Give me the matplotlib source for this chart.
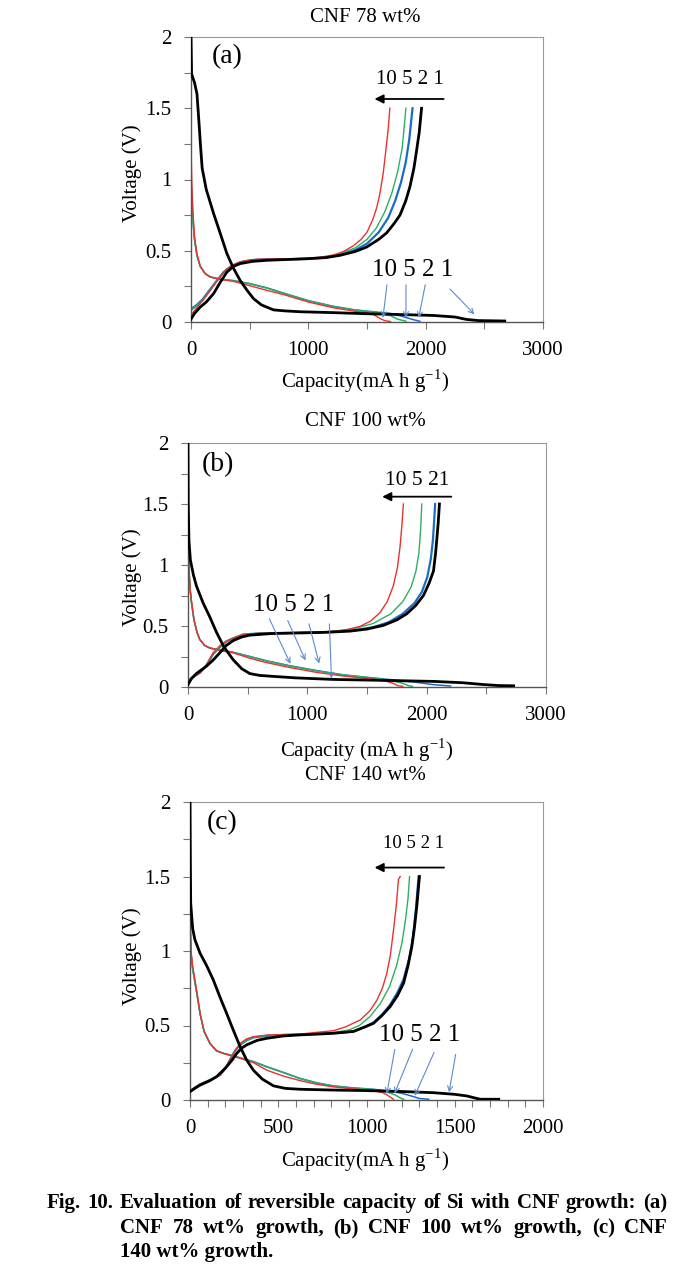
import matplotlib
matplotlib.use("Agg")
import matplotlib.pyplot as plt
from matplotlib.ticker import MultipleLocator

plt.rcParams['font.family'] = 'Liberation Serif'
plt.rcParams['mathtext.fontset'] = 'custom'
plt.rcParams['mathtext.rm'] = 'Liberation Serif'

W, H = 694, 1278

# ---------------- panel (a): CNF 78 wt% ----------------
a_dis_black = [(0, 2.0), (5, 1.74), (30, 1.68), (51, 1.6), (68, 1.4), (80, 1.25), (95, 1.08), (130, 0.93),
               (193, 0.76), (250, 0.62), (306, 0.48), (360, 0.38), (420, 0.29), (480, 0.22), (533, 0.164),
               (600, 0.12), (703, 0.085), (800, 0.078), (930, 0.072), (1200, 0.066), (1497, 0.058),
               (1800, 0.052), (2064, 0.046), (2250, 0.035), (2348, 0.018), (2450, 0.01), (2674, 0.007)]
a_dis_blue = [(0, 1.0), (8, 0.85), (18, 0.7), (30, 0.58), (50, 0.47), (79, 0.39), (120, 0.34), (164, 0.316),
              (250, 0.3), (363, 0.29), (500, 0.27), (646, 0.24), (800, 0.2), (1000, 0.15), (1213, 0.11),
              (1400, 0.085), (1600, 0.068), (1700, 0.06), (1800, 0.04), (1880, 0.02), (1950, 0.005)]
a_dis_green = [(0, 1.0), (8, 0.85), (18, 0.7), (30, 0.58), (50, 0.47), (79, 0.39), (120, 0.34), (164, 0.316),
               (250, 0.3), (363, 0.29), (500, 0.268), (646, 0.238), (800, 0.198), (1000, 0.148), (1213, 0.108),
               (1400, 0.083), (1600, 0.065), (1700, 0.045), (1760, 0.02), (1832, 0.005)]
a_dis_red = [(0, 1.22), (8, 0.95), (18, 0.75), (30, 0.6), (50, 0.48), (79, 0.39), (120, 0.34), (164, 0.316),
             (250, 0.3), (363, 0.285), (500, 0.255), (646, 0.222), (800, 0.19), (1000, 0.14), (1213, 0.1),
             (1400, 0.075), (1497, 0.066), (1560, 0.05), (1610, 0.025), (1650, 0.01), (1700, 0.003)]
a_chg_black = [(0, 0.02), (30, 0.06), (79, 0.105), (130, 0.14), (193, 0.2), (250, 0.28), (306, 0.35),
               (360, 0.39), (420, 0.41), (520, 0.425), (646, 0.433), (800, 0.438), (987, 0.444), (1150, 0.452),
               (1270, 0.468), (1400, 0.495), (1497, 0.526), (1600, 0.58), (1667, 0.625), (1730, 0.69),
               (1781, 0.75), (1830, 0.85), (1866, 0.95), (1900, 1.08), (1922, 1.2), (1945, 1.33), (1965, 1.5)]
a_chg_blue = [(0, 0.09), (50, 0.12), (100, 0.16), (164, 0.23), (230, 0.3), (278, 0.35), (340, 0.39),
              (420, 0.42), (520, 0.435), (646, 0.44), (800, 0.44), (987, 0.443), (1150, 0.452), (1270, 0.47),
              (1400, 0.505), (1500, 0.55), (1600, 0.63), (1680, 0.73), (1740, 0.85), (1790, 0.98),
              (1830, 1.12), (1860, 1.28), (1888, 1.5)]
a_chg_green = [(0, 0.08), (50, 0.115), (100, 0.155), (164, 0.225), (230, 0.3), (278, 0.35), (340, 0.39),
               (420, 0.42), (520, 0.435), (646, 0.44), (800, 0.44), (987, 0.444), (1150, 0.455), (1270, 0.48),
               (1400, 0.52), (1500, 0.58), (1580, 0.66), (1650, 0.77), (1710, 0.9), (1760, 1.05),
               (1800, 1.22), (1832, 1.5)]
a_chg_red = [(0, 0.05), (50, 0.1), (100, 0.15), (164, 0.22), (230, 0.3), (300, 0.37), (380, 0.41),
             (460, 0.43), (560, 0.44), (700, 0.442), (850, 0.444), (1000, 0.447), (1100, 0.455), (1213, 0.47),
             (1300, 0.495), (1384, 0.535), (1450, 0.58), (1500, 0.63), (1550, 0.72), (1582, 0.8), (1610, 0.9),
             (1639, 1.05), (1660, 1.2), (1680, 1.35), (1695, 1.5)]

# ---------------- panel (b): CNF 100 wt% ----------------
b_dis_black = [(0, 2.0), (2, 1.5), (8, 1.2), (20, 1.04), (45, 0.92), (70, 0.83), (126, 0.69), (180, 0.58),
               (238, 0.45), (300, 0.33), (378, 0.224), (450, 0.15), (518, 0.11), (600, 0.095), (714, 0.087),
               (900, 0.075), (1217, 0.062), (1600, 0.055), (2057, 0.046), (2300, 0.035), (2477, 0.02),
               (2600, 0.012), (2729, 0.01)]
b_dis_blue = [(0, 1.1), (8, 0.95), (18, 0.8), (28, 0.7), (50, 0.55), (75, 0.45), (98, 0.39), (140, 0.34),
              (182, 0.32), (260, 0.305), (378, 0.285), (520, 0.25), (658, 0.215), (850, 0.175), (1077, 0.135),
              (1300, 0.1), (1497, 0.08), (1700, 0.06), (1900, 0.04), (2050, 0.02), (2200, 0.008)]
b_dis_green = [(0, 1.1), (8, 0.95), (18, 0.8), (28, 0.7), (50, 0.55), (75, 0.45), (98, 0.39), (140, 0.34),
               (182, 0.32), (260, 0.303), (378, 0.283), (520, 0.248), (658, 0.213), (850, 0.172), (1077, 0.132),
               (1300, 0.098), (1497, 0.078), (1693, 0.055), (1800, 0.03), (1850, 0.01), (1880, 0.005)]
b_dis_red = [(0, 1.26), (8, 1.0), (18, 0.8), (28, 0.716), (50, 0.55), (75, 0.45), (98, 0.39), (140, 0.34),
             (182, 0.32), (260, 0.3), (378, 0.28), (520, 0.235), (658, 0.2), (850, 0.16), (1077, 0.12),
             (1300, 0.09), (1497, 0.07), (1650, 0.05), (1720, 0.03), (1760, 0.01), (1800, 0.005)]
b_chg_black = [(0, 0.02), (30, 0.07), (70, 0.11), (154, 0.17), (210, 0.22), (266, 0.28), (320, 0.34),
               (378, 0.38), (450, 0.41), (518, 0.425), (700, 0.438), (938, 0.443), (1150, 0.448), (1357, 0.458),
               (1500, 0.475), (1637, 0.505), (1750, 0.55), (1833, 0.6), (1910, 0.67), (1973, 0.75),
               (2020, 0.85), (2057, 0.95), (2075, 1.1), (2085, 1.21), (2097, 1.35), (2107, 1.5)]
b_chg_blue = [(0, 0.05), (40, 0.08), (98, 0.115), (150, 0.17), (210, 0.27), (270, 0.33), (322, 0.374),
              (380, 0.4), (462, 0.43), (600, 0.44), (800, 0.443), (1000, 0.446), (1217, 0.452), (1400, 0.465),
              (1550, 0.49), (1680, 0.53), (1800, 0.6), (1900, 0.69), (1960, 0.78), (2005, 0.9), (2035, 1.05),
              (2052, 1.2), (2062, 1.35), (2071, 1.5)]
b_chg_green = [(0, 0.05), (40, 0.08), (98, 0.115), (150, 0.17), (210, 0.27), (270, 0.33), (322, 0.374),
               (380, 0.4), (462, 0.43), (600, 0.44), (800, 0.443), (1000, 0.447), (1217, 0.455), (1400, 0.48),
               (1550, 0.52), (1700, 0.6), (1800, 0.7), (1870, 0.82), (1910, 0.95), (1935, 1.1), (1950, 1.3),
               (1959, 1.5)]
b_chg_red = [(0, 0.05), (40, 0.08), (98, 0.115), (150, 0.17), (210, 0.28), (270, 0.34), (322, 0.374),
             (380, 0.4), (462, 0.43), (600, 0.44), (800, 0.443), (1000, 0.447), (1217, 0.456), (1330, 0.47),
             (1441, 0.497), (1530, 0.54), (1609, 0.61), (1670, 0.7), (1721, 0.83), (1755, 0.98),
             (1777, 1.15), (1792, 1.32), (1805, 1.5)]

# ---------------- panel (c): CNF 140 wt% ----------------
c_dis_black = [(0, 2.0), (2, 1.6), (4, 1.32), (15, 1.15), (28, 1.075), (57, 0.985), (95, 0.9), (132, 0.806),
               (170, 0.69), (208, 0.58), (245, 0.47), (284, 0.358), (320, 0.27), (359, 0.2), (410, 0.14),
               (473, 0.095), (540, 0.078), (624, 0.072), (800, 0.067), (1002, 0.063), (1200, 0.057),
               (1380, 0.049), (1500, 0.038), (1569, 0.027), (1620, 0.012), (1645, 0.005), (1749, 0.005)]
c_dis_blue = [(0, 1.2), (6, 0.98), (15, 0.88), (28, 0.79), (45, 0.67), (57, 0.58), (80, 0.46), (113, 0.38),
              (150, 0.33), (189, 0.313), (240, 0.298), (284, 0.283), (360, 0.258), (435, 0.224), (530, 0.185),
              (624, 0.145), (720, 0.115), (813, 0.095), (920, 0.082), (1040, 0.072), (1115, 0.062),
              (1200, 0.045), (1260, 0.025), (1300, 0.01), (1352, 0.005)]
c_dis_green = [(0, 1.2), (6, 0.98), (15, 0.88), (28, 0.79), (45, 0.67), (57, 0.58), (80, 0.46), (113, 0.38),
               (150, 0.33), (189, 0.313), (240, 0.297), (284, 0.282), (360, 0.256), (435, 0.222), (530, 0.183),
               (624, 0.143), (720, 0.113), (813, 0.093), (920, 0.08), (1040, 0.07), (1115, 0.055),
               (1160, 0.035), (1190, 0.015), (1210, 0.005)]
c_dis_red = [(0, 1.265), (6, 1.0), (15, 0.9), (28, 0.806), (45, 0.68), (57, 0.58), (80, 0.46), (113, 0.38),
             (150, 0.33), (189, 0.313), (240, 0.295), (284, 0.28), (360, 0.25), (435, 0.2), (530, 0.16),
             (624, 0.13), (720, 0.105), (813, 0.088), (920, 0.075), (1040, 0.062), (1090, 0.05),
             (1115, 0.035), (1140, 0.015), (1153, 0.005)]
c_chg_black = [(0, 0.056), (30, 0.08), (57, 0.1), (113, 0.13), (151, 0.157), (180, 0.19), (208, 0.224),
               (240, 0.27), (265, 0.313), (295, 0.35), (321, 0.37), (380, 0.4), (435, 0.414), (530, 0.43),
               (624, 0.437), (720, 0.442), (813, 0.448), (926, 0.46), (990, 0.49), (1040, 0.515),
               (1090, 0.57), (1134, 0.627), (1175, 0.7), (1210, 0.784), (1235, 0.9), (1257, 1.03),
               (1272, 1.16), (1285, 1.3), (1300, 1.5)]
c_chg_blue = [(0, 0.06), (30, 0.085), (57, 0.105), (113, 0.134), (170, 0.168), (200, 0.21), (227, 0.27),
              (255, 0.33), (284, 0.37), (320, 0.4), (359, 0.42), (450, 0.433), (624, 0.44), (813, 0.448),
              (926, 0.46), (990, 0.49), (1040, 0.52), (1090, 0.575), (1134, 0.64), (1175, 0.72),
              (1210, 0.81), (1240, 0.94), (1262, 1.08), (1280, 1.28), (1295, 1.5)]
c_chg_green = [(0, 0.06), (30, 0.085), (57, 0.105), (113, 0.134), (170, 0.168), (200, 0.21), (227, 0.27),
               (255, 0.33), (284, 0.37), (320, 0.4), (359, 0.42), (450, 0.433), (624, 0.44), (813, 0.452),
               (900, 0.47), (960, 0.5), (1020, 0.56), (1080, 0.65), (1130, 0.76), (1170, 0.9), (1200, 1.05),
               (1220, 1.2), (1235, 1.35), (1244, 1.5)]
c_chg_red = [(0, 0.06), (30, 0.085), (57, 0.105), (113, 0.134), (170, 0.168), (200, 0.21), (227, 0.27),
             (255, 0.33), (284, 0.38), (320, 0.41), (359, 0.425), (450, 0.437), (624, 0.442), (700, 0.452),
             (813, 0.465), (880, 0.49), (964, 0.537), (1020, 0.6), (1059, 0.67), (1090, 0.75), (1115, 0.85),
             (1135, 0.97), (1153, 1.14), (1170, 1.32), (1181, 1.48), (1191, 1.5)]

rate_text = "10 5 2 1"

BLACK, BLUE, GREEN, RED = "black", "#1a6cc4", "#2bb060", "#e8332e"
ARROW_BLUE = "#5b8ad0"


def fig_box(left, top, right, bottom):
    return [left / W, 1 - bottom / H, (right - left) / W, (bottom - top) / H]


def draw_curves(ax, dis, chg):
    for pts, c, lw in zip(dis, [BLACK, BLUE, GREEN, RED], [2.0, 1.1, 1.1, 1.0]):
        xs, ys = zip(*pts)
        ax.plot(xs, ys, color=c, lw=lw, solid_joinstyle='round', zorder=3 if c == BLACK else 2)
    for pts, c, lw in zip(chg, [BLACK, BLUE, GREEN, RED], [2.0, 1.6, 1.0, 1.0]):
        xs, ys = zip(*pts)
        ax.plot(xs, ys, color=c, lw=lw, solid_joinstyle='round', zorder=3 if c == BLACK else 2)


def style_axes(ax, xmax, xmajor, xminor):
    ax.set_xlim(0, xmax)
    ax.set_ylim(0, 2)
    ax.xaxis.set_major_locator(MultipleLocator(xmajor))
    ax.xaxis.set_minor_locator(MultipleLocator(xminor))
    ax.yaxis.set_major_locator(MultipleLocator(0.5))
    ax.yaxis.set_minor_locator(MultipleLocator(0.25))
    ax.yaxis.set_major_formatter(plt.FuncFormatter(lambda v, p: f"{v:g}"))
    ax.tick_params(which='both', direction='out', length=5, width=0.8, color='#777777',
                   labelsize=15, pad=9)
    for s in ['top', 'right']:
        ax.spines[s].set_color('#999999')
        ax.spines[s].set_linewidth(0.8)
    for s in ['left', 'bottom']:
        ax.spines[s].set_color('#555555')
        ax.spines[s].set_linewidth(1.0)


def label_arrows(ax, text, x, y, size, tails, heads):
    ax.text(x, y, text, ha='center', va='center', fontsize=size)
    for (x0, y0), (x1, y1) in zip(tails, heads):
        ax.annotate('', xy=(x1, y1), xytext=(x0, y0),
                    arrowprops=dict(arrowstyle='->', color=ARROW_BLUE, lw=0.8, mutation_scale=9))


def top_arrow(ax, text, x, y, size, x_from, x_to, y_arrow):
    ax.text(x, y, text, ha='center', va='center', fontsize=size)
    ax.annotate('', xy=(x_to, y_arrow), xytext=(x_from, y_arrow),
                arrowprops=dict(arrowstyle='-|>', color='black', lw=1.3, mutation_scale=13))


fig = plt.figure(figsize=(W / 100, H / 100), dpi=100)

# panel (a)
ax = fig.add_axes(fig_box(191, 37, 543, 322))
draw_curves(ax, [a_dis_black, a_dis_blue, a_dis_green, a_dis_red],
            [a_chg_black, a_chg_blue, a_chg_green, a_chg_red])
style_axes(ax, 3000, 1000, 500)
ax.text(306, 1.86, "(a)", ha='center', va='center', fontsize=20)
top_arrow(ax, rate_text, 1866, 1.70, 15, 2177, 1540, 1.565)
label_arrows(ax, rate_text, 1887, 0.363, 18,
             [(1673, 0.28), (1832, 0.28), (2001, 0.28), (2191, 0.245)],
             [(1633, 0.01), (1832, 0.01), (1936, 0.01), (2432, 0.04)])
fig.text(365 / W, 1 - 18 / H, "CNF 78 wt%", ha='center', va='center', fontsize=15)
fig.text(365 / W, 1 - 381 / H, r"Capacity(mA h g$^{\mathregular{-1}}$)", ha='center', va='center', fontsize=15)
fig.text(132 / W, 1 - 173 / H, "Voltage (V)", ha='center', va='center', rotation=90, fontsize=15)

# panel (b)
ax = fig.add_axes(fig_box(188, 443, 546, 687))
draw_curves(ax, [b_dis_black, b_dis_blue, b_dis_green, b_dis_red],
            [b_chg_black, b_chg_blue, b_chg_green, b_chg_red])
style_axes(ax, 3000, 1000, 500)
ax.text(252, 1.82, "(b)", ha='center', va='center', fontsize=20)
top_arrow(ax, "10 5 21", 1924, 1.69, 15.5, 2230, 1604, 1.56)
label_arrows(ax, rate_text, 882, 0.675, 18,
             [(672, 0.58), (826, 0.566), (1008, 0.54), (1184, 0.54)],
             [(868, 0.17), (994, 0.197), (1105, 0.17), (1203, 0.046)])
fig.text(365 / W, 1 - 422 / H, "CNF 100 wt%", ha='center', va='center', fontsize=15)
fig.text(367 / W, 1 - 750 / H, r"Capacity (mA h g$^{\mathregular{-1}}$)", ha='center', va='center', fontsize=15)
fig.text(132 / W, 1 - 577 / H, "Voltage (V)", ha='center', va='center', rotation=90, fontsize=15)

# panel (c)
ax = fig.add_axes(fig_box(190, 802, 543, 1100))
draw_curves(ax, [c_dis_black, c_dis_blue, c_dis_green, c_dis_red],
            [c_chg_black, c_chg_blue, c_chg_green, c_chg_red])
style_axes(ax, 2000, 500, 100)
ax.text(180, 1.86, "(c)", ha='center', va='center', fontsize=20)
top_arrow(ax, rate_text, 1265, 1.72, 13.5, 1455, 1030, 1.56)
label_arrows(ax, rate_text, 1300, 0.437, 18,
             [(1163, 0.358), (1267, 0.358), (1389, 0.336), (1508, 0.325)],
             [(1112, 0.022), (1153, 0.027), (1267, 0.011), (1465, 0.034)])
fig.text(365 / W, 1 - 775 / H, "CNF 140 wt%", ha='center', va='center', fontsize=15)
fig.text(365 / W, 1 - 1160 / H, r"Capacity(mA h g$^{\mathregular{-1}}$)", ha='center', va='center', fontsize=15)
fig.text(132 / W, 1 - 956 / H, "Voltage (V)", ha='center', va='center', rotation=90, fontsize=15)

# caption, first two lines justified
caption_lines = ["Fig. 10. Evaluation of reversible capacity of Si with CNF growth: (a)",
                 "CNF 78 wt% growth, (b) CNF 100 wt% growth, (c) CNF",
                 "140 wt% growth."]
renderer = fig.canvas.get_renderer()


def justify(line, y_px, x0, x1, size=15):
    words = line.split()
    texts = [fig.text(0, 1 - y_px / H, w, ha='left', va='center', fontsize=size, fontweight='bold')
             for w in words]
    widths = [t.get_window_extent(renderer).width for t in texts]
    gap = (x1 - x0 - sum(widths)) / (len(words) - 1)
    x = x0
    for t, w in zip(texts, widths):
        t.set_x(x / W)
        x += w + gap


justify(caption_lines[0], 1203, 47, 667)
justify(caption_lines[1], 1228, 120, 667)
fig.text(120 / W, 1 - 1252 / H, caption_lines[2], ha='left', va='center', fontsize=15, fontweight='bold')

fig.savefig("out.png", dpi=100)
